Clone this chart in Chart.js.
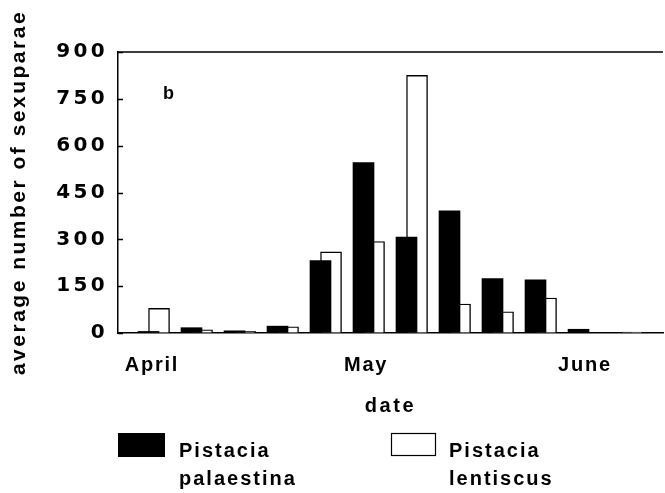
<!DOCTYPE html>
<html><head><meta charset="utf-8">
<script src="https://cdn.jsdelivr.net/npm/chart.js@4/dist/chart.umd.min.js"></script>
<style>html,body{margin:0;padding:0;background:#fff;} #wrap{width:665px;height:493px;position:relative;}</style>
</head><body><div id="wrap"><canvas id="c"></canvas></div>
<script>
// sampling occasions (index along the date axis)
const samplings = [1,2,3,4,5,6,7,8,9,10,11,12];
// average number of sexuparae
const palaestina = [5,17,7,22,232,546,307,391,174,170,12,0];
const lentiscus  = [79,10,5,20,260,293,825,93,68,112,0,3];
// date axis labels and where they sit on the sampling index
const monthLabels = ['April','May','June'];
const monthAt = [1.08, 6.06, 11.15];
const yTicks = [0,150,300,450,600,750,900];
const panelLabel = 'b';
const panelLabelAt = [1.34, 748];
const legendItems = [['Pistacia','palaestina'],['Pistacia','lentiscus']];

const FONT = 'Liberation Sans';

function withSpacing(scale, method, sp){
  const orig = scale[method];
  scale[method] = function(...args){
    const c = this.ctx; const p = c.letterSpacing;
    c.letterSpacing = sp;
    try { orig.apply(this, args); } finally { c.letterSpacing = p; }
  };
}

const decor = {
  id: 'decor',
  afterLayout(chart){
    const {x, y} = chart.scales;
    if (!x._wrapped){ withSpacing(x,'drawLabels','1.8px'); withSpacing(x,'drawTitle','2.6px'); x._wrapped = true; }
    if (!y._wrapped){ withSpacing(y,'drawLabels','3.3px'); withSpacing(y,'drawTitle','2.5px'); y._wrapped = true; }
  },
  afterDraw(chart){
    const {ctx, chartArea:a, scales:{x, y}} = chart;
    ctx.save();
    ctx.strokeStyle = '#000'; ctx.lineWidth = 1.5;
    ctx.beginPath();
    ctx.moveTo(a.left, a.top); ctx.lineTo(a.right, a.top);
    yTicks.forEach(v => { const py = Math.round(y.getPixelForValue(v)) + 0.5; ctx.moveTo(a.left, py); ctx.lineTo(a.left + 5, py); });
    ctx.stroke();
    ctx.fillStyle = '#000';
    ctx.font = 'bold 18px "' + FONT + '"';
    ctx.textAlign = 'left'; ctx.textBaseline = 'alphabetic';
    ctx.fillText(panelLabel, x.getPixelForValue(panelLabelAt[0]), y.getPixelForValue(panelLabelAt[1]));
    // legend
    const boxes = [
      {x:118, y:433, w:47, h:24, fill:'#000', stroke:null, tx:179},
      {x:391, y:433, w:44, h:22, fill:'#fff', stroke:'#000', tx:449}
    ];
    ctx.font = 'bold 20px "' + FONT + '"';
    ctx.letterSpacing = '2px';
    boxes.forEach((b, i) => {
      ctx.fillStyle = b.fill; ctx.fillRect(b.x, b.y, b.w, b.h);
      if (b.stroke){ ctx.strokeStyle = b.stroke; ctx.lineWidth = 1.2; ctx.strokeRect(b.x + 0.5, b.y + 0.5, b.w, b.h); }
      ctx.fillStyle = '#000';
      ctx.fillText(legendItems[i][0], b.tx, 457);
      ctx.fillText(legendItems[i][1], b.tx, 485);
    });
    ctx.restore();
  }
};

const xFont = {family: FONT, weight: 'bold', size: 20};

new Chart(document.getElementById('c'), {
  type: 'bar',
  data: {
    datasets: [
      { label: 'Pistacia palaestina', data: samplings.map((s, i) => ({x: s, y: palaestina[i]})),
        backgroundColor: '#000', borderColor: '#000', borderWidth: 0, barThickness: 21, grouped: false },
      { label: 'Pistacia lentiscus', data: samplings.map((s, i) => ({x: s + 0.245, y: lentiscus[i]})),
        backgroundColor: '#fff', borderColor: '#000', borderWidth: 1.4, barThickness: 21, grouped: false }
    ]
  },
  options: {
    responsive: true, maintainAspectRatio: false, animation: false,
    layout: {padding: {left: 0, top: 52, right: 2, bottom: 75}},
    plugins: {legend: {display: false}, tooltip: {enabled: false}},
    scales: {
      x: {
        type: 'linear', offset: false, min: 0.2907, max: 12.965,
        afterBuildTicks(s){ s.ticks = monthAt.map(v => ({value: v})); },
        ticks: {callback: (v, i) => monthLabels[i], autoSkip: false, maxRotation: 0, minRotation: 0,
                font: xFont, color: '#000', padding: 20},
        grid: {display: true, drawOnChartArea: false, drawTicks: false},
        border: {display: true, color: '#000', width: 1.5},
        title: {display: true, text: 'date', font: xFont, color: '#000', padding: 0},
        afterFit(s){ s.height = 85; }
      },
      y: {
        min: 0, max: 900,
        afterBuildTicks(s){ s.ticks = yTicks.map(v => ({value: v})); },
        ticks: {autoSkip: false, font: {family: 'DejaVu Sans', weight: 'bold', size: 20}, color: '#000', padding: 10},
        grid: {display: true, drawOnChartArea: false, drawTicks: false},
        border: {display: true, color: '#000', width: 1.5},
        title: {display: true, text: 'average number of sexuparae', font: {family: FONT, weight: 'bold', size: 21},
                color: '#000', padding: {top: 7, bottom: 0}},
        afterFit(s){ s.width = 118; }
      }
    }
  },
  plugins: [decor]
});
</script>
</body></html>
